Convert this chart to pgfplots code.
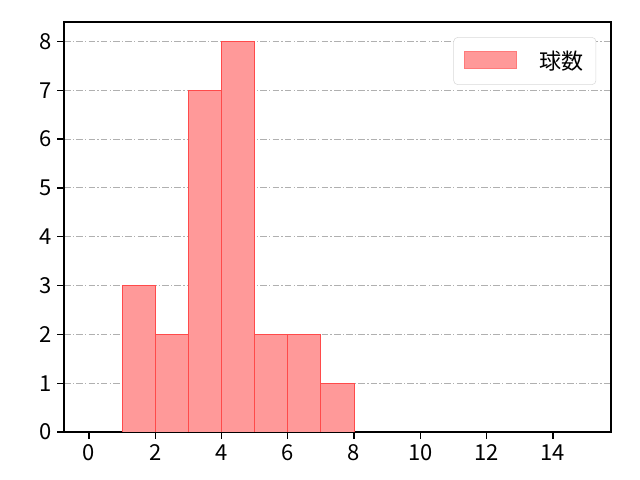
\documentclass[border=0pt]{standalone}
\usepackage{pgfplots}
\pgfplotsset{compat=1.18}
\usepackage{fontspec}
\setmainfont{Noto Sans CJK JP}
\definecolor{barfill}{HTML}{FF9999}
\definecolor{baredge}{HTML}{FF4A4A}
\definecolor{gridc}{HTML}{B0B0B0}
\begin{document}
\begin{tikzpicture}
\begin{axis}[
  scale only axis,
  width=410.25pt, height=307.5pt,
  xmin=-0.75, xmax=15.75, ymin=0, ymax=8.4,
  xtick={0,2,4,6,8,10,12,14},
  ytick={0,1,2,3,4,5,6,7,8},
  /pgf/number format/assume math mode=true,
  tick label style={font=\fontsize{16.5pt}{18pt}\selectfont},
  xticklabel style={yshift=-1pt},
  yticklabel style={xshift=-1pt},
  tick align=outside, tick pos=left,
  major tick length=5pt,
  every tick/.style={black, line width=1pt},
  axis line style={black, line width=1.4pt},
  ymajorgrids,
  grid style={gridc, line width=0.7pt, dash pattern=on 5pt off 1.6pt on 1pt off 1.6pt},
  legend style={at={(0.973,0.963)}, anchor=north east, draw=gray!30, rounded corners=3pt,
    font=\fontsize{16.5pt}{18pt}\selectfont, inner xsep=7.5pt, inner ysep=8pt},
  legend cell align=left,
]
\addplot[ybar interval, fill=barfill, draw=baredge, line width=0.7pt,
  legend image code/.code={\draw[sharp corners, fill=barfill, draw=barfill!80!red] (0pt,-5.5pt) rectangle (39pt,7pt);}]
  coordinates {(1,3) (2,2) (3,7) (4,8) (5,2) (6,2) (7,1) (8,1)};
\addlegendentry{\hspace{15pt}球数\hspace{13pt}}
\end{axis}
\path (current axis.south west) ++(-48pt,-36pt) coordinate (bl);
\path (current axis.north east) ++(21.75pt,16.5pt) coordinate (tr);
\useasboundingbox (bl) rectangle (tr);
\end{tikzpicture}
\end{document}
